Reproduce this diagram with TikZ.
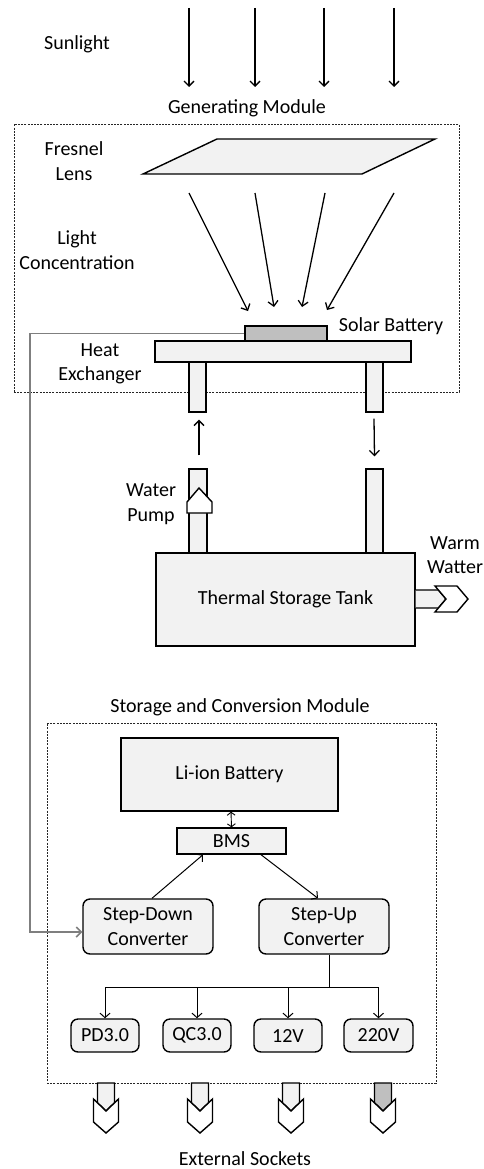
\documentclass[tikz,border=0pt]{standalone}
\usepackage{fontspec}
\setmainfont{Carlito}
\usetikzlibrary{arrows.meta,calc}
\definecolor{lg}{HTML}{F2F2F2}
\definecolor{mg}{HTML}{BFBFBF}
\definecolor{wg}{HTML}{7F7F7F}
\begin{document}
\begin{tikzpicture}[x=1pt,y=-1pt,
  every node/.style={font=\fontsize{20}{24.5}\selectfont, align=center, inner sep=0pt},
  box/.style={draw=black, fill=lg, line width=1.4pt},
  rbox/.style={box, rounded corners=7pt},
  dashbox/.style={draw=black!85, line width=0.8pt, dash pattern=on 2pt off 1.2pt},
  arr/.style={line width=1.3pt, -{Straight Barb[length=5pt,width=10pt]}},
  thinarr/.style={line width=1pt, -{Straight Barb[length=4.5pt,width=10pt]}},
  dblarr/.style={line width=0.9pt, {Straight Barb[length=3pt,width=8pt]}-{Straight Barb[length=3pt,width=8pt]}},
  wire/.style={draw=wg, line width=1.5pt, -{Straight Barb[length=5pt,width=10pt]}},
  outl/.style={draw=black, line width=1.4pt, line join=miter}
]
\useasboundingbox (0,0) rectangle (484,1169);

% ---------- Sunlight ----------
\node (sun) at (77,44) {Sunlight};
\foreach \i/\x in {1/189,2/255,3/324,4/394}{
  \coordinate (st\i) at (\x,8);
  \coordinate (se\i) at (\x,87);
  \draw[arr] (st\i) -- (se\i);
}
\node (genlbl) at (247,108) {Generating Module};

% ---------- Generating module ----------
\node[dashbox, minimum width=445pt, minimum height=268pt] (gm) at (236.5,258) {};

% Fresnel lens
\draw[outl, fill=lg] (143,174) -- (362,174) -- (435,139) -- (217,139) -- cycle;
\node (fresnel) at (74,161) {Fresnel\\Lens};

% light concentration arrows
\coordinate (c1s) at (189,193); \coordinate (c1e) at (248,311);
\coordinate (c2s) at (255,193); \coordinate (c2e) at (274,307);
\coordinate (c3s) at (325,193); \coordinate (c3e) at (302,307);
\coordinate (c4s) at (394,193); \coordinate (c4e) at (327,310);
\foreach \i in {1,2,3,4}{ \draw[arr] (c\i s) -- (c\i e); }
\node (lightc) at (77,250) {Light\\Concentration};

% pipes (upper)
\node[box, minimum width=17pt, minimum height=50pt] (pul) at (197.5,387) {};
\node[box, minimum width=17pt, minimum height=50pt] (pur) at (374.5,387) {};

% heat exchanger and solar battery
\node[box, minimum width=256pt, minimum height=21pt] (hx) at (283,351.5) {};
\node[draw=black, fill=mg, line width=1.4pt, minimum width=82pt, minimum height=15pt] (sb) at (286,333.5) {};
\node (sblbl) at (391,326) {Solar Battery};
\node (hxlbl) at (100,364) {Heat\\Exchanger};

% flow arrows
\node[box, minimum width=18pt, minimum height=84pt] (pll) at (198,511) {};
\node[box, minimum width=17pt, minimum height=84pt] (plr) at (374.5,511) {};
\draw[arr] ([xshift=1pt,yshift=13pt]pll.north) -- ([xshift=1.5pt,yshift=-7pt]pul.south);
\draw[arr] ([xshift=-0.5pt,yshift=-6pt]pur.south) -- ([yshift=12pt]plr.north);

% water pump
\draw[outl, fill=white] (187,513) -- (187,502) -- (199,488) -- (212,502) -- (212,513) -- cycle;
\node (pumplbl) at (151,504) {Water\\Pump};

% thermal storage tank
\node[box, minimum width=259pt, minimum height=93pt] (tank) at (285.5,599.5) {Thermal Storage Tank};

% warm water outlet
\draw[outl, fill=lg] (tank.east |- 0,590) -- (438.4,590) -- (446,599) -- (438.4,608) -- (tank.east |- 0,608);
\draw[outl, fill=white] (435,586) -- (457,586) -- (468,599) -- (457,612) -- (435,612) -- (446,599) -- cycle;
\node (warmlbl) at (455,555) {Warm\\Watter};

% ---------- Storage and conversion module ----------
\node (sclbl) at (240,707) {Storage and Conversion Module};
\node[dashbox, minimum width=389pt, minimum height=360pt] (sm) at (241.5,903) {};

\node[box, minimum width=217pt, minimum height=73pt] (li) at (229.5,774.5) {Li-ion Battery};
\node[box, minimum width=109pt, minimum height=26pt] (bms) at (231.5,841) {BMS};
\draw[dblarr] ([xshift=1.5pt]li.south) -- (bms.north);

\node[rbox, minimum width=130pt, minimum height=55pt] (sd) at (148,926.5) {Step-Down\\Converter};
\node[rbox, minimum width=130pt, minimum height=55pt] (su) at (324,926.5) {Step-Up\\Converter};
\draw[thinarr] ([xshift=4pt]sd.north) -- ([xshift=-28.5pt]bms.south);
\draw[thinarr] ([xshift=29.5pt]bms.south) -- ([xshift=-6pt]su.north);

% wire from solar battery
\coordinate (wirex) at (30,0);
\draw[wire] (sb.west) -- (sb.west -| wirex) |- ([yshift=-5.5pt]sd.west);

% outputs
\node[rbox, minimum width=68pt, minimum height=33pt] (pd) at (105,1035.5) {PD3.0};
\node[rbox, minimum width=68pt, minimum height=33pt] (qc) at (197,1035.5) {QC3.0};
\node[rbox, minimum width=68pt, minimum height=33pt] (v12) at (288,1035.5) {12V};
\node[rbox, minimum width=69pt, minimum height=33pt] (v220) at (378.5,1035.5) {220V};
\coordinate (tj) at (329,987);
\draw[line width=1pt] ([xshift=5pt]su.south) -- (tj);
\foreach \n in {pd,qc,v12,v220}{
  \draw[thinarr] (tj) -| (\n.north);
}

% external sockets
\foreach \c/\f in {106/lg,200/lg,291/lg,383/mg}{
  \draw[outl, fill=\f] (\c-8.5,1083) -- (\c+8.5,1083) -- (\c+8.5,1102.8) -- (\c,1111) -- (\c-8.5,1102.8) -- cycle;
  \draw[outl, fill=white] (\c-12.5,1099) -- (\c,1111) -- (\c+12.5,1099) -- (\c+12.5,1122) -- (\c,1133) -- (\c-12.5,1122) -- cycle;
}
\node (extlbl) at (245,1159) {External Sockets};
\end{tikzpicture}
\end{document}
